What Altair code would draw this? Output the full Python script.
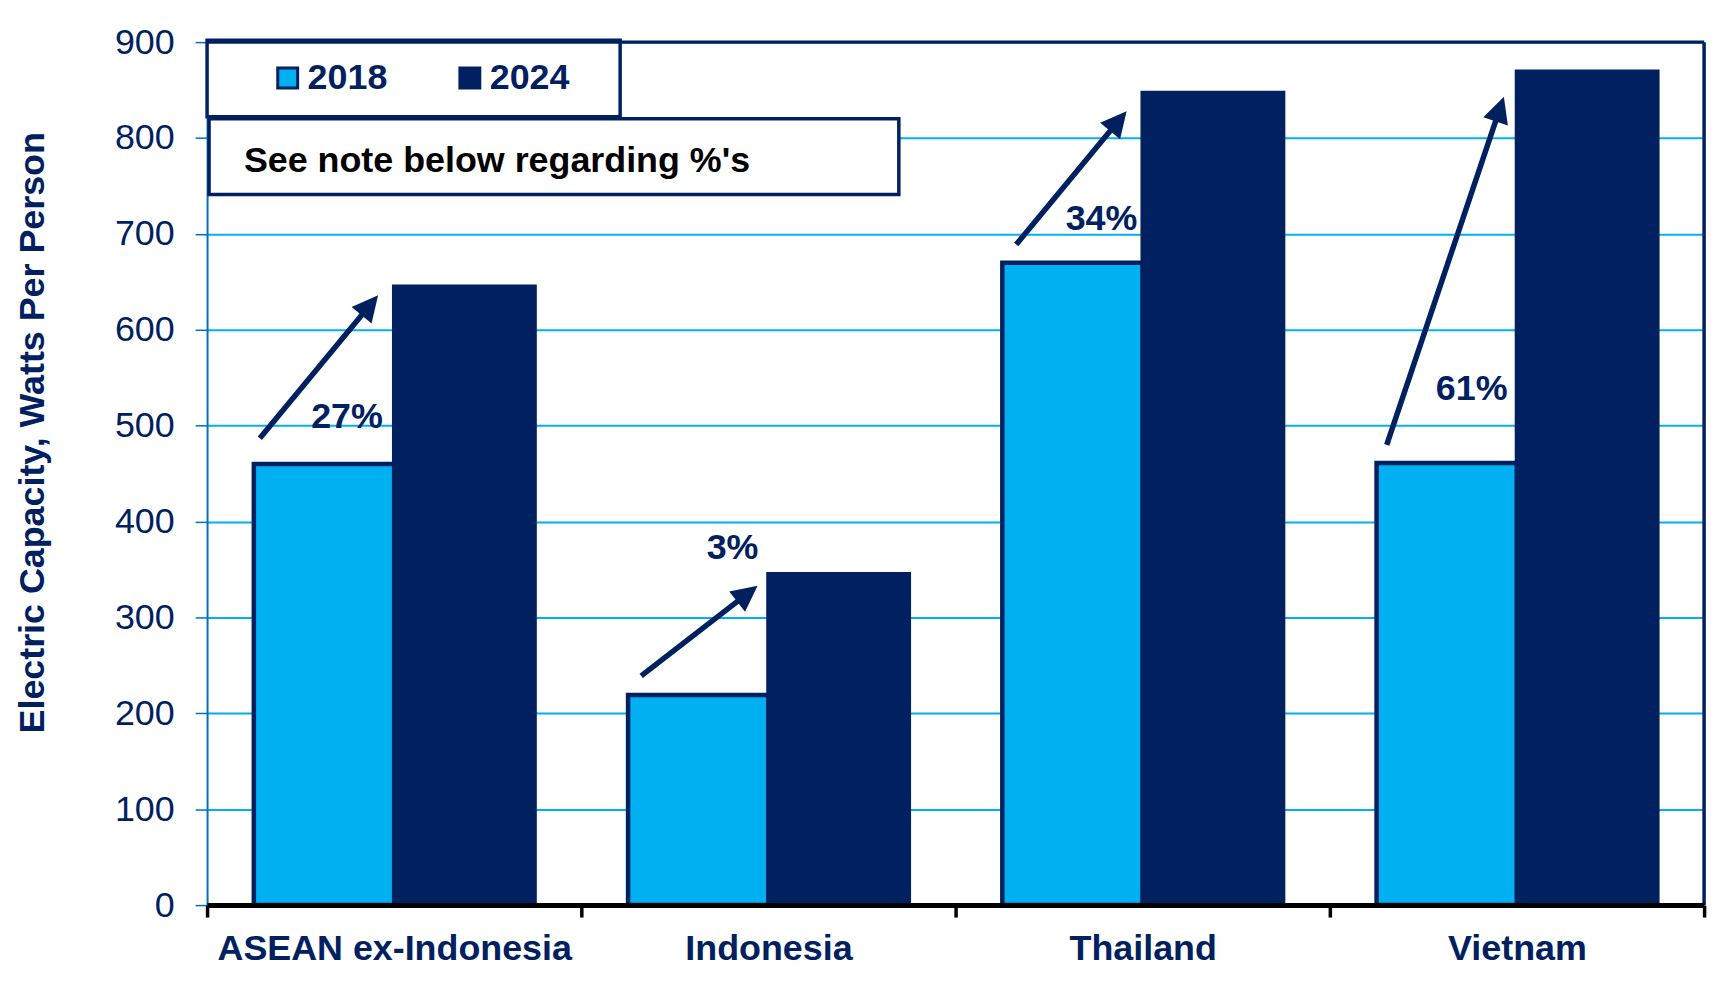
import math
import altair as alt
import pandas as pd

# ---------------- data ----------------
regions = ["ASEAN ex-Indonesia", "Indonesia", "Thailand", "Vietnam"]
years = ["2018", "2024"]
values_2018 = [460, 219, 670, 461]
values_2024 = [645, 345, 847, 869]
pct_labels = ["27%", "3%", "34%", "61%"]
# arrow annotations: x in category units (0..4 across the plot), y in W/person
arrow_x0 = [0.141, 1.160, 2.162, 3.152]
arrow_y0 = [487, 239, 689, 480]
arrow_x1 = [0.457, 1.471, 2.457, 3.465]
arrow_y1 = [636, 333, 828, 843]
label_x = [0.374, 1.404, 2.390, 3.379]
label_y = [498, 361, 704, 527]
note_text = "See note below regarding %'s"
y_title = "Electric Capacity, Watts Per Person"
y_ticks = list(range(0, 1000, 100))

# ---------------- styling ----------------
NAVY = "#002060"
CYAN = "#00B0F0"
AXBLUE = "#0070C0"
FONT = "Liberation Sans"
W, H = 1504, 867
YMAX = 900

rows = []
for r, a, b in zip(regions, values_2018, values_2024):
    rows.append({"region": r, "year": "2018", "value": a})
    rows.append({"region": r, "year": "2024", "value": b})
bars_df = pd.DataFrame(rows)

# arrow geometry (angle of head, line shortened so head covers its end)
pxx = W / 4.0
pxy = H / YMAX
HEAD = 26.0
arr = []
for i in range(len(regions)):
    dx = (arrow_x1[i] - arrow_x0[i]) * pxx
    dy = (arrow_y1[i] - arrow_y0[i]) * pxy
    L = math.hypot(dx, dy)
    back = HEAD * 0.7
    xe = arrow_x1[i] - back * dx / L / pxx
    ye = arrow_y1[i] - back * dy / L / pxy
    ang = math.degrees(math.atan2(dx, dy)) % 360
    arr.append({
        "x0": arrow_x0[i], "y0": arrow_y0[i],
        "xe": xe, "ye": ye,
        "x1": arrow_x1[i], "y1": arrow_y1[i],
        "angle": ang,
        "lx": label_x[i], "ly": label_y[i], "label": pct_labels[i],
    })
arr_df = pd.DataFrame(arr)

y_scale = alt.Scale(domain=[0, YMAX], nice=False, zero=True)
y_axis = alt.Axis(
    values=y_ticks, title=y_title, grid=True, gridColor=CYAN, gridWidth=2,
    labelFont=FONT, labelFontSize=36, labelColor=NAVY, labelPadding=21,
    tickColor=AXBLUE, tickWidth=1.5, tickSize=12,
    domainColor=AXBLUE, domainWidth=2,
    titleFont=FONT, titleFontSize=36, titleFontWeight="bold", titleColor=NAVY,
    titleAngle=270, titleAlign="center", titleBaseline="middle",
    titleX=-175, titleY=392,
)
xq_scale = alt.Scale(domain=[0, 4], nice=False, zero=False)

bars = alt.Chart(bars_df).mark_bar(stroke=NAVY, strokeWidth=4.5).encode(
    x=alt.X("region:N", sort=regions,
            scale=alt.Scale(paddingInner=0, paddingOuter=0),
            axis=alt.Axis(title=None, labelAngle=0, labelFont=FONT, labelFontSize=36,
                          labelFontWeight="bold", labelColor=NAVY, labelPadding=15,
                          labelLimit=1000,
                          tickBand="extent", tickColor="black", tickWidth=3.5, tickSize=12,
                          domainColor="black", domainWidth=5, grid=False, zindex=1)),
    xOffset=alt.XOffset("year:N", sort=years,
                        scale=alt.Scale(paddingOuter=0.333, paddingInner=0)),
    y=alt.Y("value:Q", scale=y_scale, axis=y_axis),
    color=alt.Color("year:N", sort=years,
                    scale=alt.Scale(domain=years, range=[CYAN, NAVY]),
                    legend=alt.Legend(orient="none", legendX=63, legendY=18,
                                      direction="horizontal", title=None,
                                      symbolType="square", symbolSize=400,
                                      symbolStrokeColor=NAVY, symbolStrokeWidth=3,
                                      labelFont=FONT, labelFontSize=36,
                                      labelFontWeight="bold", labelColor=NAVY,
                                      labelOffset=2, columnPadding=64, padding=0)),
    order=alt.Order("year:N"),
)

one = pd.DataFrame({"t": [note_text]})
legend_box = alt.Chart(one).mark_rect(fill="white", stroke=NAVY, strokeWidth=3.5).encode(
    x=alt.value(0), x2=alt.value(415), y=alt.value(-2), y2=alt.value(75))
note_box = alt.Chart(one).mark_rect(fill="white", stroke=NAVY, strokeWidth=3.5).encode(
    x=alt.value(2), x2=alt.value(695), y=alt.value(77), y2=alt.value(153))
note = alt.Chart(one).mark_text(font=FONT, fontSize=36, fontWeight="bold", color="black",
                                align="left", baseline="alphabetic").encode(
    text="t:N", x=alt.value(37), y=alt.value(130))

top_border = alt.Chart(one).mark_rule(color=NAVY, strokeWidth=3.5).encode(
    x=alt.value(0), x2=alt.value(W), y=alt.value(0))
right_border = alt.Chart(one).mark_rule(color=NAVY, strokeWidth=3.5).encode(
    x=alt.value(W), y=alt.value(0), y2=alt.value(H))

arrow_lines = alt.Chart(arr_df).mark_rule(color=NAVY, strokeWidth=5.5, strokeCap="butt").encode(
    x=alt.X("x0:Q", scale=xq_scale, axis=None),
    x2="xe:Q",
    y=alt.Y("y0:Q", scale=y_scale, axis=y_axis),
    y2="ye:Q",
)
arrow_heads = alt.Chart(arr_df).mark_point(
    shape="M0,0L0.5,1L-0.5,1Z", filled=True, color=NAVY, opacity=1,
    size=(2 * HEAD) ** 2, strokeWidth=0).encode(
    x=alt.X("x1:Q", scale=xq_scale, axis=None),
    y=alt.Y("y1:Q", scale=y_scale, axis=y_axis),
    angle=alt.Angle("angle:Q", scale=None),
)
pct = alt.Chart(arr_df).mark_text(font=FONT, fontSize=36, fontWeight="bold", color=NAVY,
                                  align="center", baseline="alphabetic").encode(
    x=alt.X("lx:Q", scale=xq_scale, axis=None),
    y=alt.Y("ly:Q", scale=y_scale, axis=y_axis),
    text="label:N",
)

chart = alt.layer(
    bars, legend_box, note_box, note, top_border, right_border,
    arrow_lines, arrow_heads, pct,
).resolve_scale(x="independent").properties(
    width=W, height=H,
    autosize=alt.AutoSizeParams(type="none"),
    padding={"left": 200, "top": 32, "right": 18, "bottom": 80},
    background="white",
).configure_view(stroke=None)

chart.save("out.html", embed_options={"renderer": "svg", "actions": False})
